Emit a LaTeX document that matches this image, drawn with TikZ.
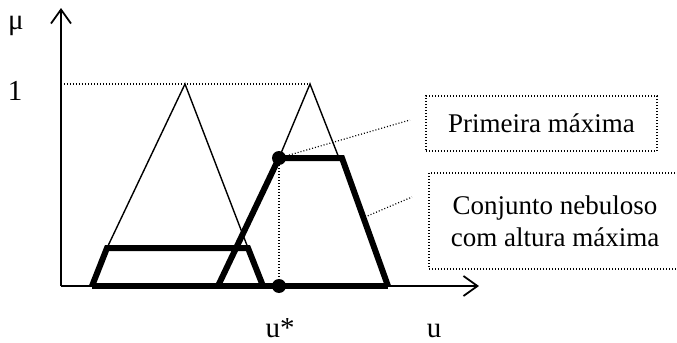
\documentclass[tikz,border=0pt]{standalone}
\usepackage{fontspec}
\setmainfont{Liberation Serif}
\usetikzlibrary{arrows.meta,positioning}
\tikzset{
  axarr/.style={-{Straight Barb[length=7pt,width=10pt]}, line width=0.9pt},
  memb/.style={line width=0.7pt},
  cut/.style={line width=3pt, line join=miter},
  guide/.style={dash pattern=on 0.5pt off 1pt, line width=0.6pt},
  lab/.style={font=\fontsize{13.5}{16}\selectfont},
  axlab/.style={font=\fontsize{14.5}{16}\selectfont, inner sep=1pt},
  note/.style={draw, guide, lab, align=center, inner sep=0pt},
}

\begin{document}
\begin{tikzpicture}[x=0.5pt,y=-0.5pt,
  mark dot/.style={circle, fill, inner sep=0pt, minimum size=7pt}]
\useasboundingbox (0,0) rectangle (677,343);
\clip (0,0) rectangle (677,343);

% ---- axes ------------------------------------------------------------------
\coordinate (O)    at (61,286);
\coordinate (ytip) at (61,8);
\coordinate (xtip) at (479,286);
\draw[axarr] (O) -- (ytip);
\draw[axarr] (O) -- (xtip);
\node[axlab] (mu)  at (16,26) {μ};
\node[axlab] (one) at (15,91) {1};
\node[axlab, anchor=base] (ustar) at (280,337) {u*};
\node[axlab, anchor=base] (uvar)  at (434,337) {u};
\coordinate (top1) at (61,84);
\draw[guide] (top1) -- (310,84);

% ---- membership functions ---------------------------------------------------
\draw[memb] (107,248) -- (185,84) -- (248,248);
\draw[memb] (279,158) -- (310,84) -- (339,158);
\draw[cut] (92,286) -- (107,248) -- (248,248) -- (263,286);
\draw[cut] (218,286) -- (279,158) -- (342,158) -- (388,286);
\draw[cut] (92,286) -- (388,286);

% ---- first maximum ----------------------------------------------------------
\node[mark dot] (dtop) at (279,158) {};
\node[mark dot] (dbot) at (279,286) {};
\draw[guide] (dtop) -- (dbot);

% ---- notes ------------------------------------------------------------------
\node[note, minimum width=115.5pt, minimum height=27.5pt] (n1) at (541.5,123.5)
  {Primeira máxima};
\node[note, minimum width=126pt, minimum height=48pt] (n2) at (555,221)
  {Conjunto nebuloso\\com altura máxima};
\coordinate (l1end)   at (410,120);
\coordinate (l2start) at (365,217);
\coordinate (l2end)   at (412,197);
\draw[guide] (dtop) -- (l1end);
\draw[guide] (l2start) -- (l2end);

\end{tikzpicture}
\end{document}
